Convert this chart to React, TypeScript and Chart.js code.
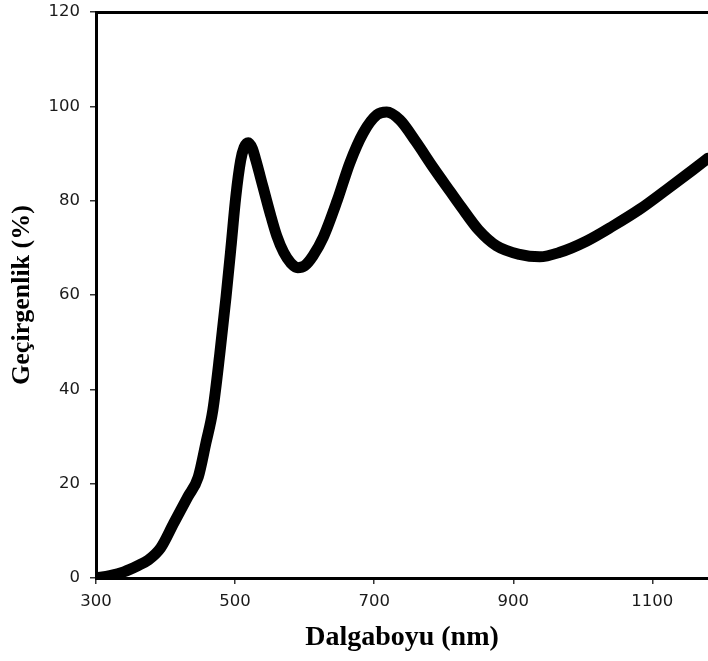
import React, { useEffect, useRef } from "react";
import { Chart, registerables } from "chart.js";

Chart.register(...registerables);

const wavelengths = [
  300, 320, 340, 360, 375, 393, 412, 432, 447, 458, 468, 478, 487, 494, 501, 508, 513, 519,
  525, 530, 540, 550, 560, 570, 580, 590, 600, 612, 627, 647, 665, 684, 704, 718, 737, 760,
  785, 810, 825, 850, 876, 909, 938, 966, 1005, 1043, 1082, 1120, 1158, 1180,
];
const transmittance = [
  0, 0.5, 1.3, 2.6, 3.8, 6.4, 11.7, 17.2, 21.4, 28.6, 35.6, 47.5, 59.6, 70, 80.8, 88.5, 91.3, 92.3,
  91, 88.5, 83, 77.5, 72.5, 69, 66.8, 65.8, 66.2, 68.3, 72.3, 80.1, 88, 94.3, 98.2, 98.8, 97.1, 92.5,
  87, 81.8, 78.7, 73.8, 70.4, 68.6, 68.1, 69.0, 71.4, 74.6, 78.2, 82.3, 86.5, 89,
];
const xTicks = [300, 500, 700, 900, 1100];
const yTicks = [0, 20, 40, 60, 80, 100, 120];
const xTitle = "Dalgaboyu (nm)";
const yTitle = "Geçirgenlik (%)";

export default function App() {
  const ref = useRef<HTMLCanvasElement | null>(null);

  useEffect(() => {
    if (!ref.current) return;
    const tickFont = { family: "'DejaVu Sans', sans-serif", size: 16.5 };
    const yTitleFont = { family: "'Liberation Serif', serif", size: 26, weight: "bold" as const };
    const xTitleFont = { family: "'Liberation Serif', serif", size: 28, weight: "bold" as const };
    const chart = new Chart(ref.current, {
      type: "line",
      data: {
        datasets: [
          {
            data: wavelengths.map((x, i) => ({ x, y: transmittance[i] })),
            borderColor: "#000",
            borderWidth: 11,
            borderCapStyle: "round",
            borderJoinStyle: "round",
            pointRadius: 0,
            fill: false,
            cubicInterpolationMode: "monotone",
          },
        ],
      },
      options: {
        animation: false,
        responsive: false,
        layout: { padding: { top: 0, right: 0, bottom: 0, left: 0 } },
        plugins: { legend: { display: false }, tooltip: { enabled: false } },
        scales: {
          x: {
            type: "linear",
            position: "bottom",
            min: 300,
            max: 1180,
            afterBuildTicks: (s: any) => {
              s.ticks = xTicks.map((v) => ({ value: v }));
            },
            afterFit: (s: any) => {
              s.height = 83;
              s.paddingLeft = 0;
              s.paddingRight = 0;
            },
            ticks: {
              font: tickFont,
              color: "#1a1a1a",
              padding: 8,
              maxRotation: 0,
              autoSkip: false,
              callback: (v: any) => String(v),
            },
            grid: { drawOnChartArea: false, tickLength: 6, color: "#333", lineWidth: 1.5 },
            border: { display: true, color: "#000", width: 3 },
            title: { display: true, text: xTitle, font: xTitleFont, color: "#000", padding: { top: 0, bottom: 6 } },
          },
          x2: {
            type: "linear",
            position: "top",
            min: 300,
            max: 1180,
            afterFit: (s: any) => {
              s.height = 12;
              s.paddingLeft = 0;
              s.paddingRight = 0;
            },
            ticks: { display: false },
            grid: { display: false },
            border: { display: true, color: "#000", width: 3 },
          },
          y: {
            type: "linear",
            min: 0,
            max: 120,
            afterBuildTicks: (s: any) => {
              s.ticks = yTicks.map((v) => ({ value: v }));
            },
            afterFit: (s: any) => {
              s.width = 96;
              s.paddingTop = 0;
              s.paddingBottom = 0;
            },
            ticks: { font: tickFont, color: "#1a1a1a", padding: 10, callback: (v: any) => String(v) },
            grid: { drawOnChartArea: false, tickLength: 6, color: "#333", lineWidth: 1.5 },
            border: { display: true, color: "#000", width: 3 },
            title: { display: true, text: yTitle, font: yTitleFont, color: "#000", padding: { top: 7, bottom: 0 } },
          },
        },
      },
    });
    return () => chart.destroy();
  }, []);

  return (
    <div style={{ position: "absolute", left: 0, top: 0, width: 708, height: 661, background: "#fff" }}>
      <canvas ref={ref} width={708} height={661} style={{ display: "block" }} />
    </div>
  );
}
